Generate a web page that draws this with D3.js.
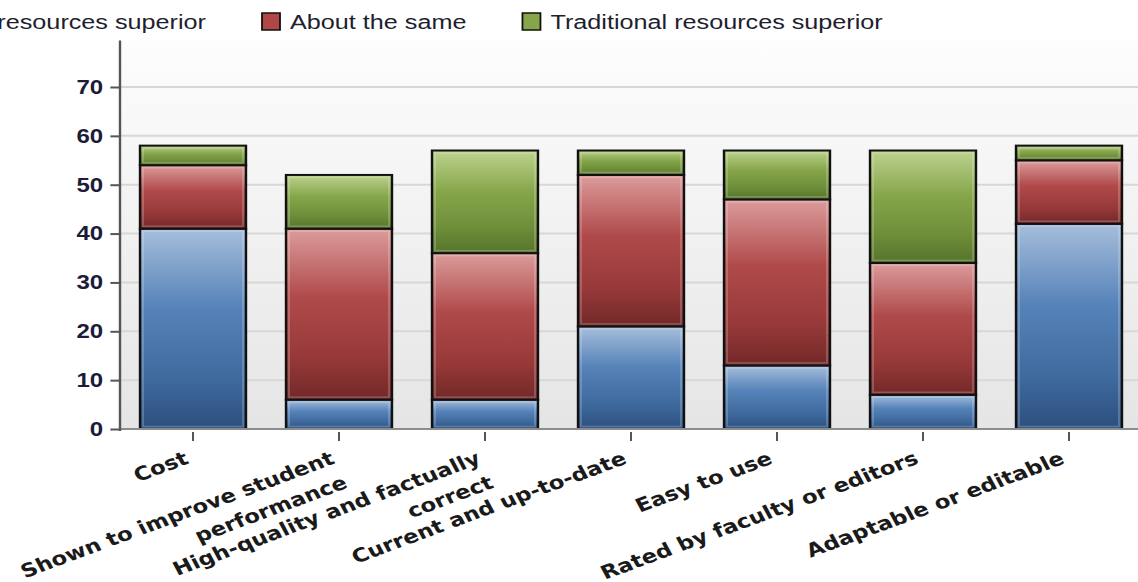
<!DOCTYPE html>
<html>
<head>
<meta charset="utf-8">
<script src="https://cdn.jsdelivr.net/npm/d3@7"></script>
<style>
html,body{margin:0;padding:0;background:#fff;overflow:hidden;}
svg{display:block;}
</style>
</head>
<body>
<div id="chart"></div>
<script>
// values
const categories = ['Cost','Shown to improve student performance','High-quality and factually correct',
    'Current and up-to-date','Easy to use','Rated by faculty or editors','Adaptable or editable'];
const categoryLines = [['Cost'],['Shown to improve student','performance'],['High-quality and factually','correct'],
    ['Current and up-to-date'],['Easy to use'],['Rated by faculty or editors'],['Adaptable or editable']];
const seriesNames = ['Open educational resources superior','About the same','Traditional resources superior'];
const openSuperior = [41, 6, 6, 21, 13, 7, 42];
const aboutSame = [13, 35, 30, 31, 34, 27, 13];
const traditionalSuperior = [4, 11, 21, 5, 10, 23, 3];
const yTicks = [0, 10, 20, 30, 40, 50, 60, 70];

const W = 1138, H = 582;
const SX = 1.2; // the picture is drawn a little wider than tall, so stretch sideways
const VW = W / SX;
const left = 120 / SX;
const step = 146 / SX;

const svg = d3.select('#chart').append('svg')
    .attr('width', W).attr('height', H)
    .attr('viewBox', `0 0 ${VW} ${H}`)
    .attr('preserveAspectRatio', 'none');

const defs = svg.append('defs');

// gradients
const bg = defs.append('linearGradient').attr('id','bg').attr('x1',0).attr('y1',0).attr('x2',0).attr('y2',1);
bg.append('stop').attr('offset','0%').attr('stop-color','#fdfdfd');
bg.append('stop').attr('offset','100%').attr('stop-color','#e5e5e5');

const barColors = [
    ['#a6bedb','#5582b8','#3f6a9e','#2c4f7d'],
    ['#dc9c9c','#b04a4a','#973939','#722828'],
    ['#bdd28e','#86a64b','#6f8e3a','#56742b']
];
barColors.forEach((c,i)=>{
    const g = defs.append('linearGradient').attr('id','bar'+i)
        .attr('x1',0).attr('y1',0).attr('x2',0).attr('y2',1);
    g.append('stop').attr('offset','0%').attr('stop-color',c[0]);
    g.append('stop').attr('offset','40%').attr('stop-color',c[1]);
    g.append('stop').attr('offset','75%').attr('stop-color',c[2]);
    g.append('stop').attr('offset','100%').attr('stop-color',c[3]);
});
const legendColors = ['#4f7db5','#b04646','#86a64a'];

// scales
const x = d3.scaleBand().domain(categories)
    .range([left, left + categories.length * step])
    .paddingInner(0.274).paddingOuter(0.137);
const y = d3.scaleLinear().domain([0, 70]).range([429, 87]);
const plotTop = y(79.5);

// plot background
svg.append('rect').attr('x', left).attr('y', plotTop)
    .attr('width', VW - left).attr('height', y(0) - plotTop)
    .attr('fill', 'url(#bg)');

// grid
svg.append('g').selectAll('line').data(yTicks.filter(d=>d>0)).join('line')
    .attr('x1', left).attr('x2', VW)
    .attr('y1', d=>y(d)).attr('y2', d=>y(d))
    .attr('stroke', '#d7d7d7').attr('stroke-width', 2);

// stacked bars
const table = categories.map((c,i)=>({cat:c, s0:openSuperior[i], s1:aboutSame[i], s2:traditionalSuperior[i]}));
const stacked = d3.stack().keys(['s0','s1','s2'])(table);

const layers = svg.append('g').selectAll('g').data(stacked).join('g');
layers.selectAll('rect.seg').data(d=>d).join('rect').attr('class','seg')
    .attr('x', d=>x(d.data.cat))
    .attr('y', d=>y(d[1]))
    .attr('width', x.bandwidth())
    .attr('height', d=>y(d[0]) - y(d[1]))
    .attr('fill', function(){ return 'url(#bar' + d3.select(this.parentNode).datum().index + ')'; })
    .attr('stroke', '#111').attr('stroke-width', 2);
// soft inner bevel
layers.selectAll('rect.bevel').data(d=>d).join('rect').attr('class','bevel')
    .attr('x', d=>x(d.data.cat) + 2.5)
    .attr('y', d=>y(d[1]) + 2.5)
    .attr('width', x.bandwidth() - 5)
    .attr('height', d=>Math.max(0, y(d[0]) - y(d[1]) - 5))
    .attr('fill', 'none')
    .attr('stroke', 'rgba(255,255,255,0.22)').attr('stroke-width', 1.5);

// x axis
svg.append('line').attr('x1', left).attr('x2', VW).attr('y1', y(0)).attr('y2', y(0))
    .attr('stroke', '#8c8c8c').attr('stroke-width', 2);
svg.append('g').selectAll('line').data(categories).join('line')
    .attr('x1', d=>x(d) + x.bandwidth()/2).attr('x2', d=>x(d) + x.bandwidth()/2)
    .attr('y1', y(0) + 3).attr('y2', y(0) + 12)
    .attr('stroke', '#444').attr('stroke-width', 1.5);

const xl = svg.append('g').selectAll('text').data(categories).join('text')
    .attr('transform', d=>`translate(${x(d) + x.bandwidth()/2 - 3/SX},463) rotate(-24)`)
    .attr('text-anchor', 'end')
    .style('font-family', '"DejaVu Sans", Verdana, sans-serif')
    .style('font-weight', 'bold')
    .style('font-size', '19px')
    .style('fill', '#1a1a1a');
xl.selectAll('tspan').data((d,i)=>categoryLines[i]).join('tspan')
    .attr('x', 0).attr('dy', (d,i)=> i === 0 ? 0 : '1.4em')
    .text(d=>d);

// y axis
const yAxis = d3.axisLeft(y).tickValues(yTicks).tickSize(8).tickPadding(6).tickSizeOuter(0);
const yAxisDraw = svg.append('g').attr('transform', `translate(${left},0)`).call(yAxis);
yAxisDraw.select('.domain').remove();
yAxisDraw.selectAll('line').attr('stroke', '#555').attr('stroke-width', 2);
yAxisDraw.selectAll('text')
    .style('font-family', '"Liberation Sans", Arial, sans-serif')
    .style('font-weight', 'bold')
    .style('font-size', '20px')
    .style('fill', '#1c1c3a');
svg.append('line').attr('x1', left).attr('x2', left).attr('y1', plotTop).attr('y2', y(0) + 2)
    .attr('stroke', '#555').attr('stroke-width', 2);

// legend
const legend = svg.append('g');
const items = legend.selectAll('g').data(seriesNames).join('g');
items.append('rect').attr('x', 0).attr('y', 13).attr('width', 15).attr('height', 17)
    .attr('fill', (d,i)=>legendColors[i]).attr('stroke', '#111').attr('stroke-width', 1.5);
items.append('text').attr('x', 28/SX).attr('y', 29).text(d=>d)
    .style('font-family', '"Liberation Sans", Arial, sans-serif')
    .style('font-size', '21px')
    .style('fill', '#1e1e2e');
const lens = [];
items.select('text').each(function(){ lens.push(this.getComputedTextLength()); });
const gap = 56/SX, textOff = 28/SX;
const pos = [];
pos[1] = 262/SX;
pos[0] = pos[1] - gap - lens[0] - textOff;
pos[2] = pos[1] + textOff + lens[1] + gap;
items.attr('transform', (d,i)=>`translate(${pos[i]},0)`);
</script>
</body>
</html>
